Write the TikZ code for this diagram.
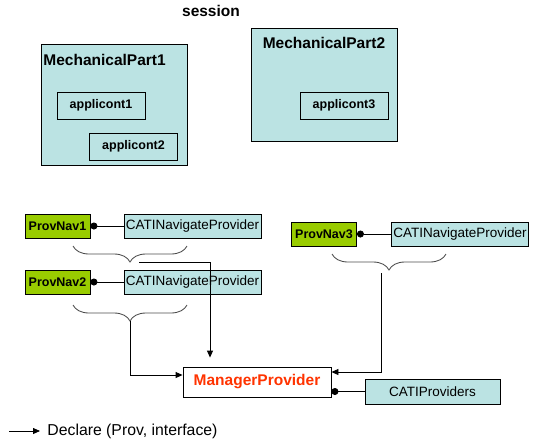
\documentclass[tikz,border=0pt]{standalone}
\usepackage{fontspec}
\setmainfont{Liberation Sans}
\usetikzlibrary{arrows.meta,decorations.pathreplacing}
\definecolor{partcyan}{RGB}{187,227,227}
\definecolor{navgreen}{RGB}{153,204,0}
\definecolor{mgrred}{RGB}{255,51,0}

\begin{document}
\begin{tikzpicture}[
		x=1pt, y=-1pt,
		line width=0.85pt,
		every node/.style={rectangle, draw, inner sep=0pt, line width=0.85pt},
		big/.style={font=\fontsize{15.5}{17}\selectfont\bfseries},
		part/.style={fill=partcyan, minimum width=146pt},
		appli/.style={minimum width=88pt, minimum height=27pt, font=\fontsize{12.5}{14}\selectfont\bfseries},
		nav/.style={fill=navgreen, minimum width=65pt, minimum height=24pt, font=\fontsize{12.5}{14}\selectfont\bfseries},
		itf/.style={fill=partcyan, minimum width=137pt, minimum height=24pt, font=\fontsize{13.5}{15}\selectfont},
		decl/.style={-{Triangle[length=7pt, width=6pt]}},
		plug/.style={{Circle[length=7pt]}-},
		grp/.style={draw=black!70, decorate, decoration={brace, mirror, amplitude=16pt}}
	]
  \useasboundingbox (0, 0) rectangle (536, 440);
  \node (session) [draw=none, big] at (211, 11) {session};
  \node (mp1) [part, minimum height=121pt] at (114, 104.5) {};
  \node (mp1_label) [draw=none, big, anchor=west] at (43, 60) {MechanicalPart1};
  \node (app1) [appli] at (101, 105.5) {applicont1};
  \node (app2) [appli] at (133.5, 146.5) {applicont2};
  \node (mp2) [part, minimum height=113pt] at (324, 84.5) {};
  \node (mp2_label) [draw=none, big] at (324, 43) {MechanicalPart2};
  \node (app3) [appli] at (344, 105.5) {applicont3};
  \node (nav1) [nav] at (57.5, 226) {ProvNav1};
  \node (itf1) [itf] at (192.5, 226) {CATINavigateProvider};
  \node (nav2) [nav] at (57.5, 282) {ProvNav2};
  \node (itf2) [itf] at (192.5, 282) {CATINavigateProvider};
  \node (nav3) [nav] at (324, 234) {ProvNav3};
  \node (itf3) [itf] at (460, 234) {CATINavigateProvider};
  \node (mgr) [minimum width=148pt, minimum height=30pt, big, text=mgrred] at (257, 382) {ManagerProvider};
  \node (provs) [itf, minimum width=135pt, minimum height=25pt] at (432.5, 391.5) {CATIProviders};
  \node (decl_label) [draw=none, anchor=west, font=\fontsize{15.8}{17}\selectfont] at (47, 431) {Declare (Prov, interface)};
  \coordinate (tip1) at (139, 262);
  \coordinate (tip2) at (130, 321);
  \coordinate (tip3) at (381, 273);
  \coordinate (decl0) at (9, 431);
  \draw [plug] (nav1) -- (itf1);
  \draw [plug] (nav2) -- (itf2);
  \draw [plug] (nav3) -- (itf3);
  \draw [grp] (73, 246) -- (187, 246);
  \draw [grp] (73, 305) -- (187, 305);
  \draw [grp] (332, 254) -- (446, 254);
  \draw [decl] (tip1) -| ([xshift=-47pt, yshift=9pt]mgr.north);
  \draw [decl] (tip2) |- ([yshift=7pt]mgr.west);
  \draw [decl] (tip3) |- ([yshift=10pt]mgr.east);
  \draw [-{Circle[length=7pt]}] (provs) -- (mgr.east |- provs);
  \draw [decl] (decl0) -- ([xshift=-7pt]decl_label.west);
\end{tikzpicture}
\end{document}
